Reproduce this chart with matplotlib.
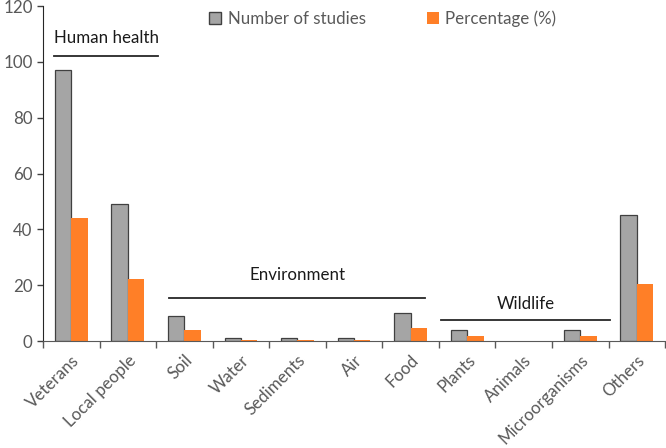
import numpy as np
import matplotlib.pyplot as plt
from matplotlib.patches import Patch

categories = ["Veterans", "Local people", "Soil", "Water", "Sediments", "Air",
              "Food", "Plants", "Animals", "Microorganisms", "Others"]
n_studies = [97, 49, 9, 1, 1, 1, 10, 4, 0, 4, 45]
percentage = [43.9, 22.2, 4.1, 0.45, 0.45, 0.45, 4.5, 1.8, 0.0, 1.8, 20.4]

plt.rcParams['font.family'] = ['Lato', 'DejaVu Sans']
txt_grey = "#595959"
fs = 12.2

fig = plt.figure(figsize=(6.66, 4.48), dpi=100)
ax = fig.add_axes([0.0646, 0.2388, 0.934, 0.7478])

x = np.arange(len(categories))
w = 0.29
edges = ["#404040" if v > 0 else "none" for v in n_studies]
ax.bar(x - w / 2, n_studies, w, color="#A5A5A5", edgecolor=edges, linewidth=0.9)
ax.bar(x + w / 2, percentage, w, color="#FF7F27", edgecolor="none")

ax.set_xlim(-0.5, len(categories) - 0.5)
ax.set_ylim(0, 120)
ax.set_yticks(range(0, 121, 20))
ax.tick_params(axis="y", colors="#404040", labelcolor=txt_grey, labelsize=fs, length=4, width=1)

ax.set_xticks(np.arange(len(categories) + 1) - 0.5)
ax.set_xticklabels([])
ax.set_xticks(x, minor=True)
ax.set_xticklabels(categories, minor=True, rotation=45, ha="right", va="top",
                   rotation_mode="anchor", color=txt_grey, fontsize=fs)
ax.tick_params(axis="x", which="major", length=5, width=1, colors="#595959")
ax.tick_params(axis="x", which="minor", length=0, pad=8)

for s in ["top", "right"]:
    ax.spines[s].set_visible(False)
ax.spines["left"].set_color("#262626")
ax.spines["bottom"].set_color("#595959")

# group brackets
groups = [("Human health", -0.31, 1.53, 102, 108.5),
          ("Environment", 1.73, 6.26, 15.5, 23.5),
          ("Wildlife", 6.54, 9.52, 7.6, 13.3)]
for name, x0, x1, yl, yt in groups:
    ax.plot([x0, x1], [yl, yl], color="#262626", lw=1.3, clip_on=False)
    if name == "Human health":
        ax.text(x0, yt, name, ha="left", va="center", fontsize=fs, color="#1a1a1a")
    else:
        ax.text((x0 + x1) / 2, yt, name, ha="center", va="center", fontsize=fs, color="#1a1a1a")

handles = [Patch(facecolor="#A5A5A5", edgecolor="#404040"),
           Patch(facecolor="#FF7F27", edgecolor="none")]
leg = ax.legend(handles, ["Number of studies", "Percentage (%)"], ncol=2, frameon=False,
                loc="center left", bbox_to_anchor=(0.267, 0.961), fontsize=fs,
                borderpad=0, borderaxespad=0,
                handlelength=0.7, handleheight=0.7, handletextpad=0.4, columnspacing=3.6)
for t in leg.get_texts():
    t.set_color(txt_grey)

fig.savefig("out.png", dpi=100)
